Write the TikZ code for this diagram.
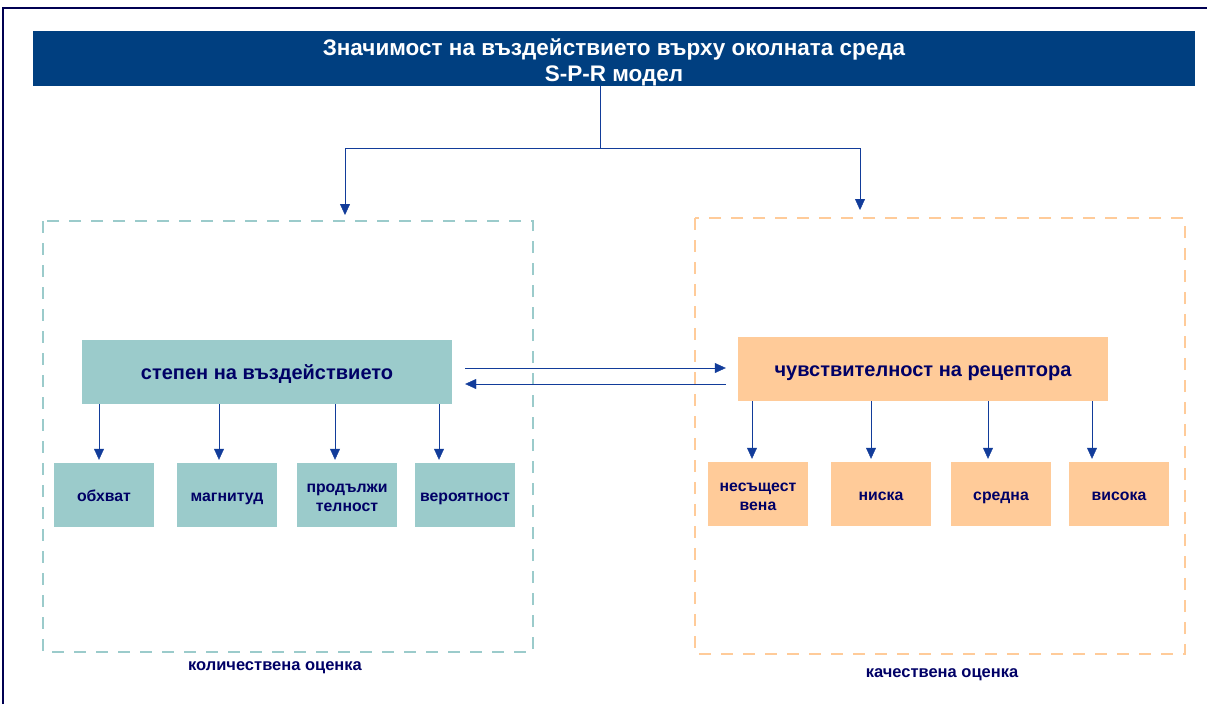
\documentclass[tikz,border=0pt]{standalone}
\usepackage{fontspec}
\setmainfont{Liberation Sans}
\usetikzlibrary{arrows.meta}
\definecolor{titleblue}{HTML}{003F80}
\definecolor{ink}{HTML}{000066}
\definecolor{arrowblue}{HTML}{123C9A}
\definecolor{quantcol}{HTML}{9BCBCB}
\definecolor{qualcol}{HTML}{FFCB99}

\begin{document}
\begin{tikzpicture}[x=1pt, y=-1pt,
    box/.style={minimum width=100pt, minimum height=64pt, inner sep=1pt, text depth=4pt,
        align=center, font=\fontsize{15.8}{19}\selectfont\bfseries, text=ink},
    mainbox/.style={minimum width=370pt, minimum height=64pt, text height=18pt, text depth=4pt,
        font=\fontsize{20}{24}\selectfont\bfseries, text=ink},
    lbl/.style={font=\fontsize{16.5}{20}\selectfont\bfseries, text=ink},
    arr/.style={arrowblue, -{Triangle[length=11pt, width=10pt]}},
    frame/.style={dash pattern=on 12pt off 10pt, line width=2pt}]
    \useasboundingbox (0,0) rectangle (1207,704);
    \draw[line width=2pt, color=ink!80!black] (3,704) -- (3,8) -- (1207,8);

    % title
    \node[fill=titleblue, minimum width=1162pt, minimum height=55pt, inner ysep=0pt,
        text=white, text height=49pt, text depth=4pt,
        font=\fontsize{22.5}{26}\selectfont\bfseries, align=center] (title) at (614,58.5)
        {Значимост на въздействието върху околната среда\\S-P-R модел};

    % dashed frames
    \draw[frame, quantcol] (43,221) rectangle (533,652);
    \draw[frame, qualcol] (695,218) rectangle (1185,654);
    \node[lbl] (quantlbl) at (275,668) {количествена оценка};
    \node[lbl] (quallbl) at (942,675) {качествена оценка};

    % main boxes
    \node[mainbox, fill=quantcol] (impact) at (267,372) {степен на въздействието};
    \node[mainbox, fill=qualcol] (recept) at (923,369) {чувствителност на рецептора};

    \coordinate (split) at (600,148);
    \draw[arrowblue] (title.south -| split) -- (split);
    \draw[arr] (split) -| (345,215);
    \draw[arr] (split) -| (860,210);

    \draw[arr] ([xshift=13pt,yshift=4pt]impact.east) -- ([xshift=-12pt,yshift=1pt]recept.west);
    \draw[arr] ([xshift=-12pt,yshift=-15pt]recept.west) -- ([xshift=13pt,yshift=-12pt]impact.east);

    % children
    \foreach \nm/\x/\dx/\th/\txt in {q1/104/-5/16/обхват, q2/227/-8/16/магнитуд,
        q3/347/-12/36/{продължи\\телност}, q4/465/-26/16/вероятност}{
        \node[box, fill=quantcol, text height=\th pt] (\nm) at (\x,495) {\txt};
        \draw[arr] ([xshift=\dx pt]\nm.north |- impact.south) -- ([xshift=\dx pt,yshift=3pt]\nm.north);
    }
    \foreach \nm/\x/\dx/\th/\txt in {s1/758/-6/36/{несъщест\\вена}, s2/881/-10/16/ниска,
        s3/1001/-13/16/средна, s4/1119/-27/16/висока}{
        \node[box, fill=qualcol, text height=\th pt] (\nm) at (\x,494) {\txt};
        \draw[arr] ([xshift=\dx pt]\nm.north |- recept.south) -- ([xshift=\dx pt,yshift=3pt]\nm.north);
    }
\end{tikzpicture}
\end{document}
